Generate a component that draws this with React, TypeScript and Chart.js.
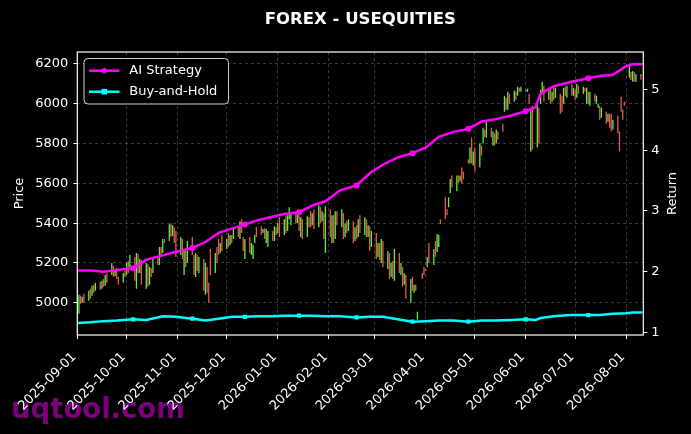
import React, { useEffect, useRef } from 'react';
import { Chart, registerables } from 'chart.js';

Chart.register(...registerables);

const TITLE = 'FOREX - USEQUITIES';
const START = Date.UTC(2025, 8, 1);
const DAY = 86400000;

// x-axis month ticks
const tickLabels = [
  '2025-09-01', '2025-10-01', '2025-11-01', '2025-12-01', '2026-01-01', '2026-02-01',
  '2026-03-01', '2026-04-01', '2026-05-01', '2026-06-01', '2026-07-01', '2026-08-01',
];
const tickDays = tickLabels.map((s) => Math.round((Date.parse(s) - START) / DAY));
const priceTicks = [5000, 5200, 5400, 5600, 5800, 6000, 6200];
const returnTicks = [1, 2, 3, 4, 5];

// daily candles (trading days from 2025-09-01)
const opens = [
  4985, 4945, 5035, 5000, 5045, 5010, 5070, 5035, 5090, 5060,
  5105, 5070, 5120, 5085, 5150, 5140, 5185, 5135, 5175, 5130,
  5100, 5160, 5140, 5210, 5180, 5230, 5070, 5245, 5150, 5215,
  5070, 5195, 5090, 5175, 5150, 5225, 5190, 5280, 5250, 5320,
  5310, 5400, 5335, 5380, 5360, 5240, 5320, 5140, 5260, 5200,
  5330, 5240, 5130, 5240, 5150, 5220, 5040, 5180, 5100, 5270,
  5150, 5280, 5320, 5250, 5340, 5270, 5350, 5290, 5340, 5320,
  5380, 5320, 5420, 5330, 5220, 5330, 5240, 5220, 5300, 5380,
  5385, 5350, 5375, 5300, 5280, 5360, 5310, 5380, 5350, 5430,
  5340, 5435, 5360, 5420, 5390, 5450, 5400, 5440, 5330, 5420,
  5330, 5430, 5460, 5390, 5470, 5380, 5480, 5410, 5450, 5250,
  5470, 5300, 5440, 5320, 5460, 5380, 5450, 5330, 5410, 5360,
  5410, 5310, 5390, 5330, 5440, 5340, 5420, 5330, 5385, 5280,
  5350, 5230, 5300, 5200, 5310, 5170, 5250, 5130, 5210, 5110,
  5250, 5140, 5180, 5090, 5140, 5000, 5130, 5050, 5090, 4915,
  5150, 5180, 5170, 5180, 5300, 5190, 5310, 5255, 5280, 5420,
  5530, 5470, 5480, 5550, 5640, 5560, 5640, 5610, 5680, 5660,
  5720, 5700, 5830, 5690, 5780, 5680, 5790, 5800, 5870, 5830,
  5880, 5790, 5850, 5800, 5860, 5900, 5960, 6030, 5970, 6050,
  6010, 6060, 6040, 6080, 6060, 6070, 6060, 6050, 5760, 5990,
  5780, 5980, 6000, 6060, 6090, 6020, 6080, 6010, 6085, 6030,
  6050, 6040, 6000, 6085, 6030, 6100, 6040, 6070, 6030, 6090,
  6050, 6080, 6000, 6060, 5990, 6050, 6000, 5980, 5990, 5930,
  5960, 5910, 5950, 5950, 5870, 5940, 5860, 6035, 5970, 6010,
  6130, 6160, 6110, 6160, 6110, 6150,
];
const closes = [
  4935, 5040, 4995, 5030, 5000, 5060, 5020, 5085, 5050, 5100,
  5065, 5110, 5080, 5140, 5100, 5200, 5130, 5170, 5120, 5090,
  5150, 5130, 5200, 5150, 5240, 5110, 5250, 5150, 5220, 5090,
  5200, 5080, 5180, 5130, 5230, 5190, 5280, 5240, 5320, 5300,
  5395, 5330, 5390, 5300, 5230, 5330, 5220, 5270, 5180, 5310,
  5240, 5140, 5250, 5160, 5230, 5060, 5200, 5050, 5000, 5140,
  5250, 5200, 5240, 5300, 5260, 5320, 5280, 5340, 5300, 5370,
  5330, 5410, 5350, 5260, 5320, 5250, 5300, 5290, 5340, 5330,
  5340, 5370, 5320, 5370, 5360, 5310, 5385, 5340, 5400, 5330,
  5420, 5350, 5440, 5480, 5450, 5400, 5455, 5360, 5430, 5320,
  5435, 5380, 5380, 5450, 5370, 5490, 5400, 5460, 5320, 5485,
  5330, 5440, 5300, 5460, 5390, 5470, 5320, 5400, 5350, 5420,
  5300, 5380, 5320, 5420, 5350, 5430, 5330, 5390, 5260, 5360,
  5220, 5300, 5215, 5320, 5180, 5260, 5120, 5200, 5120, 5270,
  5150, 5200, 5080, 5150, 5020, 5120, 5060, 5090, 5060, 4955,
  5120, 5140, 5160, 5230, 5200, 5270, 5230, 5345, 5340, 5395,
  5420, 5440, 5530, 5620, 5580, 5640, 5600, 5640, 5600, 5620,
  5700, 5780, 5700, 5760, 5660, 5800, 5740, 5880, 5830, 5910,
  5830, 5860, 5790, 5870, 5820, 5860, 6040, 5970, 6060, 6000,
  6065, 6020, 6085, 6060, 6085, 6060, 6075, 6000, 5980, 5770,
  5990, 5800, 6070, 6110, 6010, 6080, 6000, 6060, 6020, 6080,
  5950, 5960, 6080, 6040, 6090, 6040, 6080, 6020, 6100, 6050,
  6085, 6060, 6080, 6000, 6060, 6010, 6040, 6000, 5920, 5980,
  5900, 5950, 5880, 5860, 5920, 5850, 5760, 5960, 5920, 5990,
  6200, 6120, 6165, 6110, 6150, 6120,
];

// cumulative return series (sampled by calendar day from 2025-09-01)
const returnDays = [
  0, 8, 16, 24, 34, 42, 52, 60, 70, 78, 86, 94, 102, 110, 118, 126, 135, 143, 151, 160,
  170, 178, 186, 195, 204, 212, 220, 229, 238, 246, 255, 264, 273, 279, 282, 290, 300, 311,
  318, 326, 334, 338, 344,
];
const aiReturns = [
  2.02, 2.02, 2.0, 2.03, 2.06, 2.2, 2.27, 2.33, 2.39, 2.49, 2.64, 2.71, 2.78, 2.85, 2.9,
  2.95, 2.98, 3.09, 3.16, 3.34, 3.42, 3.62, 3.76, 3.88, 3.95, 4.04, 4.22, 4.3, 4.35, 4.47,
  4.51, 4.57, 4.64, 4.71, 4.93, 5.05, 5.12, 5.18, 5.22, 5.24, 5.38, 5.41, 5.41,
];
const holdReturns = [
  1.16, 1.17, 1.19, 1.2, 1.22, 1.21, 1.27, 1.26, 1.23, 1.2, 1.23, 1.26, 1.26, 1.27, 1.27,
  1.28, 1.28, 1.28, 1.27, 1.27, 1.25, 1.26, 1.26, 1.22, 1.18, 1.19, 1.2, 1.2, 1.18, 1.2,
  1.2, 1.21, 1.22, 1.21, 1.24, 1.27, 1.29, 1.29, 1.29, 1.31, 1.32, 1.33, 1.33,
];
const markerDays = [34, 70, 102, 135, 170, 204, 238, 273, 311];

const GREEN = '#5cf040';
const RED = '#e65a4e';
const MAGENTA = '#ff00ff';
const CYAN = '#00ffff';
const FONT = '"DejaVu Sans", sans-serif';

const candleDays = opens.map((_, i) => Math.floor(i / 5) * 7 + (i % 5));

const decor = {
  id: 'decor',
  beforeDraw(chart: any) {
    const { ctx, width, height } = chart;
    ctx.save();
    ctx.fillStyle = '#000';
    ctx.fillRect(0, 0, width, height);
    ctx.font = `bold 27.5px ${FONT}`;
    ctx.fillStyle = 'rgba(135, 0, 135, 0.92)';
    ctx.textAlign = 'left';
    ctx.textBaseline = 'alphabetic';
    ctx.fillText('uqtool.com', 11, 418);
    ctx.restore();
  },
  afterDraw(chart: any) {
    const { ctx, chartArea: a } = chart;
    const xs = chart.scales.x;
    ctx.save();
    ctx.strokeStyle = '#fff';
    ctx.lineWidth = 1.2;
    ctx.strokeRect(a.left, a.top, a.right - a.left, a.bottom - a.top);

    ctx.fillStyle = '#fff';
    ctx.font = `bold 16.5px ${FONT}`;
    ctx.textAlign = 'center';
    ctx.textBaseline = 'alphabetic';
    ctx.fillText(TITLE, (a.left + a.right) / 2, 24);

    // rotated date labels
    ctx.font = `13px ${FONT}`;
    ctx.textAlign = 'right';
    ctx.textBaseline = 'middle';
    tickDays.forEach((d, i) => {
      ctx.save();
      ctx.translate(xs.getPixelForValue(d) - 3, a.bottom + 20);
      ctx.rotate(-Math.PI / 4);
      ctx.fillText(tickLabels[i], 0, 0);
      ctx.restore();
    });

    const midY = (a.top + a.bottom) / 2;
    ctx.textAlign = 'center';
    for (const [txt, x] of [['Price', 19.5], ['Return', 673]] as [string, number][]) {
      ctx.save();
      ctx.translate(x, midY);
      ctx.rotate(-Math.PI / 2);
      ctx.fillText(txt, 0, 0);
      ctx.restore();
    }

    // legend
    const bx = 84, by = 58.5, bw = 144.5, bh = 45.5;
    ctx.beginPath();
    ctx.roundRect(bx, by, bw, bh, 4);
    ctx.fillStyle = 'rgba(0,0,0,0.8)';
    ctx.fill();
    ctx.strokeStyle = '#cfcfcf';
    ctx.lineWidth = 1;
    ctx.stroke();
    const items: [string, string, boolean, number][] = [
      ['AI Strategy', MAGENTA, true, 70.7],
      ['Buy-and-Hold', CYAN, false, 91.7],
    ];
    for (const [label, color, round, y] of items) {
      ctx.strokeStyle = color;
      ctx.lineWidth = 2.5;
      ctx.beginPath();
      ctx.moveTo(89, y);
      ctx.lineTo(119.5, y);
      ctx.stroke();
      ctx.fillStyle = color;
      if (round) {
        ctx.beginPath();
        ctx.arc(104.3, y, 2.6, 0, Math.PI * 2);
        ctx.fill();
      } else {
        ctx.fillRect(101.5, y - 2.8, 5.6, 5.6);
      }
      ctx.fillStyle = '#fff';
      ctx.textAlign = 'left';
      ctx.fillText(label, 129.3, y);
    }
    ctx.restore();
  },
};

const App: React.FC = () => {
  const canvasRef = useRef<HTMLCanvasElement | null>(null);

  useEffect(() => {
    if (!canvasRef.current) return;
    Chart.defaults.font.family = FONT;
    Chart.defaults.font.size = 13;
    Chart.defaults.color = '#fff';

    const gridColor = 'rgba(255,255,255,0.28)';
    const pointSize = (c: any) => (c.raw && markerDays.includes(c.raw.x) ? 3 : 0);

    const chart = new Chart(canvasRef.current, {
      type: 'bar',
      data: {
        datasets: [
          {
            type: 'line',
            label: 'AI Strategy',
            data: returnDays.map((d, i) => ({ x: d, y: aiReturns[i] })),
            yAxisID: 'y1',
            borderColor: MAGENTA,
            backgroundColor: MAGENTA,
            borderWidth: 2.5,
            pointRadius: pointSize,
            pointStyle: 'circle',
            pointBorderWidth: 0,
            tension: 0,
            order: 1,
          } as any,
          {
            type: 'line',
            label: 'Buy-and-Hold',
            data: returnDays.map((d, i) => ({ x: d, y: holdReturns[i] })),
            yAxisID: 'y1',
            borderColor: CYAN,
            backgroundColor: CYAN,
            borderWidth: 2.5,
            pointRadius: pointSize,
            pointStyle: 'rect',
            pointBorderWidth: 0,
            tension: 0,
            order: 2,
          } as any,
          {
            type: 'bar',
            label: 'Price',
            data: opens.map((o, i) => ({ x: candleDays[i], y: [o, closes[i]] })) as any,
            yAxisID: 'y',
            backgroundColor: opens.map((o, i) => (closes[i] >= o ? GREEN : RED)),
            borderWidth: 0,
            barThickness: 1.3,
            inflateAmount: 0,
            order: 5,
          } as any,
        ],
      },
      options: {
        responsive: true,
        maintainAspectRatio: false,
        animation: false,
        layout: { padding: { top: 52, left: 0, right: 0, bottom: 0 } },
        plugins: { legend: { display: false }, tooltip: { enabled: false } },
        scales: {
          x: {
            type: 'linear',
            min: 0,
            max: 344.5,
            offset: false,
            afterFit: (s: any) => { s.height = 99; },
            afterBuildTicks: (s: any) => { s.ticks = tickDays.map((v) => ({ value: v })); },
            ticks: { display: false, autoSkip: false },
            grid: { color: gridColor, lineWidth: 0.8, offset: false, tickColor: '#fff', tickLength: 4, tickWidth: 1 },
            border: { display: false, dash: [3, 3] },
          },
          y: {
            type: 'linear',
            position: 'left',
            min: 4838,
            max: 6260,
            afterFit: (s: any) => { s.width = 77.3; },
            afterBuildTicks: (s: any) => { s.ticks = priceTicks.map((v) => ({ value: v })); },
            ticks: { color: '#fff', padding: 5, callback: (v: any) => String(v) },
            grid: { color: gridColor, lineWidth: 0.8, tickColor: '#fff', tickLength: 4, tickWidth: 1 },
            border: { display: false, dash: [3, 3] },
          },
          y1: {
            type: 'linear',
            position: 'right',
            min: 0.962,
            max: 5.613,
            afterFit: (s: any) => { s.width = 47.7; },
            afterBuildTicks: (s: any) => { s.ticks = returnTicks.map((v) => ({ value: v })); },
            ticks: { color: '#fff', padding: 4, callback: (v: any) => String(v) },
            grid: { drawOnChartArea: false, tickColor: '#fff', tickLength: 4, tickWidth: 1 },
            border: { display: false },
          },
        },
      },
      plugins: [decor],
    });

    return () => chart.destroy();
  }, []);

  return (
    <div style={{ position: 'fixed', left: 0, top: 0, width: 691, height: 434, background: '#000' }}>
      <canvas ref={canvasRef} />
    </div>
  );
};

export default App;
